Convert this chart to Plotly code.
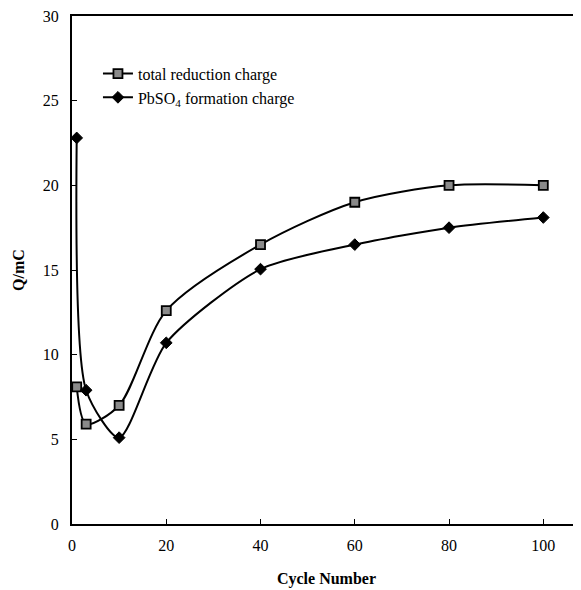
import plotly.graph_objects as go

cycles = [1, 3, 10, 20, 40, 60, 80, 100]
total_reduction = [8.1, 5.9, 7.0, 12.6, 16.5, 19.0, 20.0, 20.0]
pbso4_formation = [22.8, 7.9, 5.1, 10.7, 15.05, 16.5, 17.5, 18.1]

x_ticks = [0, 20, 40, 60, 80, 100]
y_ticks = [0, 5, 10, 15, 20, 25, 30]

FONT = "Liberation Serif, Times New Roman, serif"

fig = go.Figure()
fig.add_trace(go.Scatter(
    x=cycles, y=total_reduction, name="total reduction charge",
    mode="lines+markers",
    line=dict(color="black", width=2, shape="spline", smoothing=0.8),
    marker=dict(symbol="square", size=9, color="#8a8a8a",
                line=dict(color="black", width=1.8)),
))
fig.add_trace(go.Scatter(
    x=cycles, y=pbso4_formation, name="PbSO<sub>4</sub> formation charge",
    mode="lines+markers",
    line=dict(color="black", width=2, shape="spline", smoothing=0.7),
    marker=dict(symbol="diamond", size=9, color="black",
                line=dict(color="black", width=1)),
))

# page body has an 8px default margin, so the figure is sized to fit the window
fig.update_layout(
    width=573, height=582,
    margin=dict(l=64, r=0, t=8, b=66),
    paper_bgcolor="white", plot_bgcolor="white",
    font=dict(family=FONT, size=16, color="black"),
    showlegend=True,
    legend=dict(x=0.051, y=0.92, xanchor="left", yanchor="top",
                bgcolor="rgba(0,0,0,0)", font=dict(family=FONT, size=16),
                tracegroupgap=0, itemwidth=30),
    xaxis=dict(range=[0, 108], tickvals=x_ticks, ticks="inside", ticklen=5,
               tickcolor="black", showline=True, linecolor="black", linewidth=2,
               mirror=True, showgrid=False, zeroline=False, automargin=False,
               ticklabelstandoff=6, ticklabeloverflow="allow",
               title=dict(text="<b>Cycle Number</b>", standoff=20,
                          font=dict(family=FONT, size=16))),
    yaxis=dict(range=[0, 30], tickvals=y_ticks, ticks="inside", ticklen=5,
               tickcolor="black", showline=True, linecolor="black", linewidth=2,
               showgrid=False, zeroline=False, automargin=False,
               ticklabelstandoff=8, ticklabeloverflow="allow",
               title=dict(text="<b>Q/mC</b>", standoff=14,
                          font=dict(family=FONT, size=16))),
)

fig.write_html("out.html")
